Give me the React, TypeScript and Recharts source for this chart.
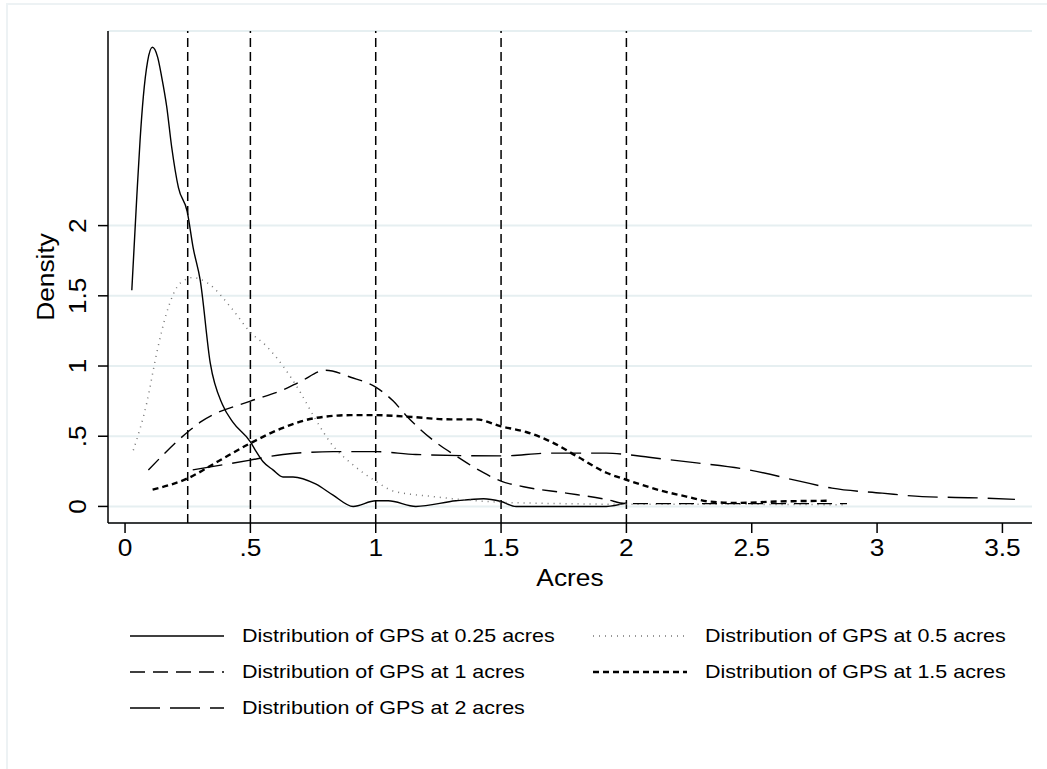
import React from "react";
import {
  LineChart,
  Line,
  XAxis,
  YAxis,
  CartesianGrid,
  ReferenceLine,
} from "recharts";

// kernel density estimates, per survey plot size
const x025 = [0.027, 0.047, 0.06, 0.073, 0.09, 0.109, 0.13, 0.146, 0.166, 0.186, 0.213, 0.248, 0.272, 0.3, 0.34, 0.39, 0.43, 0.5, 0.52, 0.55, 0.59, 0.63, 0.67, 0.76, 0.83, 0.91, 1.0, 1.05, 1.16, 1.32, 1.43, 1.5, 1.56, 1.75, 1.92, 2.0];
const d025 = [1.54, 2.21, 2.61, 2.92, 3.17, 3.27, 3.2, 3.06, 2.85, 2.56, 2.27, 2.1, 1.84, 1.61, 1.02, 0.72, 0.6, 0.46, 0.4, 0.32, 0.26, 0.21, 0.21, 0.16, 0.08, 0.0, 0.04, 0.04, 0.0, 0.04, 0.055, 0.035, 0.0, 0.0, 0.0, 0.025];

const x05 = [0.033, 0.087, 0.126, 0.166, 0.22, 0.27, 0.33, 0.43, 0.5, 0.565, 0.63, 0.7, 0.76, 0.83, 0.9, 1.0, 1.07, 1.23, 1.5, 1.75, 2.0, 2.4, 2.88];
const d05 = [0.4, 0.74, 1.09, 1.38, 1.59, 1.63, 1.59, 1.4, 1.24, 1.14, 1.0, 0.81, 0.62, 0.43, 0.31, 0.18, 0.11, 0.07, 0.03, 0.02, 0.015, 0.015, 0.012];

const x1 = [0.093, 0.25, 0.3, 0.5, 0.63, 0.7, 0.8, 0.9, 1.0, 1.07, 1.12, 1.23, 1.32, 1.43, 1.5, 1.59, 1.76, 1.92, 2.0, 2.4, 2.88];
const d1 = [0.26, 0.53, 0.6, 0.75, 0.83, 0.89, 0.97, 0.92, 0.85, 0.75, 0.65, 0.47, 0.36, 0.24, 0.18, 0.14, 0.095, 0.05, 0.02, 0.02, 0.02];

const x15 = [0.11, 0.25, 0.37, 0.5, 0.63, 0.76, 0.9, 1.0, 1.12, 1.3, 1.4, 1.5, 1.6, 1.7, 1.8, 1.92, 2.0, 2.15, 2.24, 2.33, 2.44, 2.6, 2.8];
const d15 = [0.12, 0.2, 0.32, 0.45, 0.56, 0.63, 0.65, 0.65, 0.64, 0.62, 0.62, 0.57, 0.53, 0.46, 0.36, 0.24, 0.19, 0.107, 0.07, 0.035, 0.025, 0.035, 0.04];

const x2 = [0.27, 0.5, 0.63, 0.83, 1.0, 1.16, 1.5, 1.7, 1.92, 2.0, 2.09, 2.28, 2.49, 2.69, 2.82, 3.02, 3.18, 3.42, 3.55];
const d2 = [0.26, 0.33, 0.37, 0.39, 0.39, 0.37, 0.36, 0.38, 0.38, 0.37, 0.35, 0.31, 0.26, 0.18, 0.13, 0.095, 0.07, 0.06, 0.05];

const xTicks = [0, 0.5, 1, 1.5, 2, 2.5, 3, 3.5];
const yTicks = [0, 0.5, 1, 1.5, 2];
const cutoffs = [0.25, 0.5, 1, 1.5, 2];

const toPoints = (xs: number[], ys: number[]) => xs.map((x, i) => ({ x, y: ys[i] }));

const series = [
  { name: "Distribution of GPS at 0.25 acres", data: toPoints(x025, d025), color: "#000", width: 1.4, dash: undefined },
  { name: "Distribution of GPS at 0.5 acres", data: toPoints(x05, d05), color: "#777", width: 1.5, dash: "1 5" },
  { name: "Distribution of GPS at 1 acres", data: toPoints(x1, d1), color: "#000", width: 1.4, dash: "15 8" },
  { name: "Distribution of GPS at 1.5 acres", data: toPoints(x15, d15), color: "#000", width: 2.4, dash: "6 4" },
  { name: "Distribution of GPS at 2 acres", data: toPoints(x2, d2), color: "#000", width: 1.4, dash: "30 10" },
];

const FONT = "'Liberation Sans', Arial, sans-serif";
const SIZE = 23.5;
const STRETCH = 1.12;

const fmt = (v: number) => (v === 0 ? "0" : String(v).replace(/^0\./, "."));

const XTick = ({ x, y, payload }: any) => (
  <text transform={`translate(${x},${y + 21}) scale(${STRETCH},1)`} textAnchor="middle" fontSize={SIZE} fontFamily={FONT} fill="#000">
    {fmt(payload.value)}
  </text>
);

const YTick = ({ x, y, payload }: any) => (
  <text transform={`translate(${x - 10.5},${y}) rotate(-90) scale(${STRETCH},1)`} textAnchor="middle" fontSize={SIZE} fontFamily={FONT} fill="#000">
    {fmt(payload.value)}
  </text>
);

const LegendRow = ({ s, left, top }: any) => (
  <div style={{ position: "absolute", left, top, height: 24, display: "flex", alignItems: "center" }}>
    <svg width={96} height={24}>
      <line x1={1} y1={12} x2={95} y2={12} stroke={s.color} strokeWidth={s.width} strokeDasharray={s.dash} />
    </svg>
    <span style={{ marginLeft: 17, fontSize: 19, fontFamily: FONT, display: "inline-block", transform: `scaleX(1.13)`, transformOrigin: "left center", whiteSpace: "nowrap" }}>
      {s.name}
    </span>
  </div>
);

export default function App() {
  return (
    <div style={{ position: "absolute", left: 0, top: 0, width: 1047, height: 769, overflow: "hidden", background: "#fff" }}>
      <div style={{ position: "absolute", left: 6, top: 3, width: 1060, height: 800, border: "2px solid #edf2f4" }} />
      <LineChart width={1047} height={769} margin={{ top: 31, right: 15, bottom: 176, left: 0 }} style={{ position: "absolute", left: 0, top: 0 }}>
        <CartesianGrid vertical={false} stroke="#e6eff1" strokeWidth={2} />
        <XAxis
          type="number"
          dataKey="x"
          domain={[-0.068, 3.618]}
          ticks={xTicks}
          allowDataOverflow
          height={70}
          tickSize={10}
          stroke="#000"
          strokeWidth={1.5}
          tick={<XTick />}
          label={{
            content: ({ viewBox }: any) => (
              <text transform={`translate(${viewBox.x + viewBox.width / 2},${586}) scale(${STRETCH},1)`} textAnchor="middle" fontSize={SIZE} fontFamily={FONT} fill="#000">
                Acres
              </text>
            ),
          }}
        />
        <YAxis
          type="number"
          dataKey="y"
          domain={[-0.118, 3.386]}
          ticks={yTicks}
          allowDataOverflow
          width={108}
          tickSize={10}
          stroke="#000"
          strokeWidth={1.5}
          tick={<YTick />}
          label={{
            content: ({ viewBox }: any) => (
              <text transform={`translate(${54},${viewBox.y + viewBox.height / 2}) rotate(-90) scale(${STRETCH},1)`} textAnchor="middle" fontSize={SIZE} fontFamily={FONT} fill="#000">
                Density
              </text>
            ),
          }}
        />
        {cutoffs.map((c) => (
          <ReferenceLine key={c} x={c} stroke="#000" strokeWidth={1.5} strokeDasharray="9 5" />
        ))}
        {series.map((s) => (
          <Line
            key={s.name}
            data={s.data}
            dataKey="y"
            type="monotone"
            stroke={s.color}
            strokeWidth={s.width}
            strokeDasharray={s.dash}
            dot={false}
            isAnimationActive={false}
          />
        ))}
      </LineChart>
      <LegendRow s={series[0]} left={129} top={624} />
      <LegendRow s={series[2]} left={129} top={660} />
      <LegendRow s={series[4]} left={129} top={696} />
      <LegendRow s={series[1]} left={592} top={624} />
      <LegendRow s={series[3]} left={592} top={660} />
    </div>
  );
}
